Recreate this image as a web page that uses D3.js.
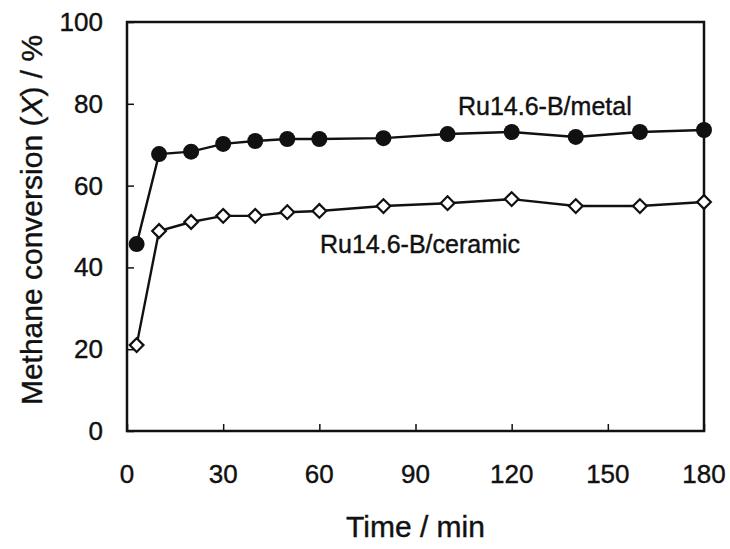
<!DOCTYPE html>
<html>
<head>
<meta charset="utf-8">
<script src="https://cdn.jsdelivr.net/npm/d3@7"></script>
<style>
  body { margin:0; background:#fff; }
  svg text { font-family:"Liberation Sans", Arial, sans-serif; fill:#111; stroke:#111; stroke-width:0.4px; }
</style>
</head>
<body>
<div class="chart"></div>
<script>
// time on stream, min
var times = [3, 10, 20, 30, 40, 50, 60, 80, 100, 120, 140, 160, 180];
// methane conversion, %
var metalValues   = [45.7, 67.7, 68.3, 70.2, 70.9, 71.4, 71.4, 71.6, 72.6, 73.1, 71.9, 73.1, 73.6];
var ceramicValues = [21.0, 48.9, 51.1, 52.6, 52.6, 53.5, 53.8, 55.0, 55.7, 56.7, 55.0, 55.0, 56.0];
var xTicks = [0, 30, 60, 90, 120, 150, 180];
var yTicks = [0, 20, 40, 60, 80, 100];
var seriesLabels = ["Ru14.6-B/metal", "Ru14.6-B/ceramic"];

var width = 730, height = 549;
var margin = {top:22, right:26, bottom:118, left:127};

var svg = d3.select(".chart").append("svg")
  .attr("width", width)
  .attr("height", height);

var x = d3.scaleLinear().domain([0, 180]).range([margin.left, width - margin.right]);
var y = d3.scaleLinear().domain([0, 100]).range([height - margin.bottom, margin.top]);

// inward ticks, left and bottom only
var xAxis = d3.axisTop(x).tickValues(xTicks).tickSize(7).tickFormat("");
var yAxis = d3.axisRight(y).tickValues(yTicks).tickSize(7).tickFormat("");

svg.append("g")
  .attr("transform", "translate(0," + y(0) + ")")
  .call(xAxis)
  .call(function(g){ g.select(".domain").remove(); })
  .selectAll("line").attr("stroke", "#111").attr("stroke-width", 1.5);

svg.append("g")
  .attr("transform", "translate(" + x(0) + ",0)")
  .call(yAxis)
  .call(function(g){ g.select(".domain").remove(); })
  .selectAll("line").attr("stroke", "#111").attr("stroke-width", 1.5);

// tick labels
svg.selectAll(".xlab").data(xTicks).enter().append("text")
  .attr("class", "xlab")
  .attr("x", function(d){ return x(d); })
  .attr("y", y(0) + 52)
  .attr("text-anchor", "middle")
  .style("font-size", "26px")
  .text(function(d){ return d; });

svg.selectAll(".ylab").data(yTicks).enter().append("text")
  .attr("class", "ylab")
  .attr("x", x(0) - 24)
  .attr("y", function(d){ return y(d) + 9; })
  .attr("text-anchor", "end")
  .style("font-size", "26px")
  .text(function(d){ return d; });

// frame
svg.append("rect")
  .attr("x", x(0))
  .attr("y", y(100))
  .attr("width", x(180) - x(0))
  .attr("height", y(0) - y(100))
  .attr("fill", "none")
  .attr("stroke", "#111")
  .attr("stroke-width", 2.5);

var line = d3.line()
  .x(function(d){ return x(d[0]); })
  .y(function(d){ return y(d[1]); });

var metal = times.map(function(t, i){ return [t, metalValues[i]]; });
var ceramic = times.map(function(t, i){ return [t, ceramicValues[i]]; });

svg.append("path").datum(metal)
  .attr("d", line).attr("fill", "none").attr("stroke", "#111").attr("stroke-width", 2.4);
svg.append("path").datum(ceramic)
  .attr("d", line).attr("fill", "none").attr("stroke", "#111").attr("stroke-width", 2.4);

svg.selectAll(".metal").data(metal).enter().append("circle")
  .attr("class", "metal")
  .attr("cx", function(d){ return x(d[0]); })
  .attr("cy", function(d){ return y(d[1]); })
  .attr("r", 8)
  .attr("fill", "#111");

var diamond = d3.symbol().type(d3.symbolDiamond2).size(120);
svg.selectAll(".ceramic").data(ceramic).enter().append("path")
  .attr("class", "ceramic")
  .attr("transform", function(d){ return "translate(" + x(d[0]) + "," + y(d[1]) + ")"; })
  .attr("d", diamond)
  .attr("fill", "#fff")
  .attr("stroke", "#111")
  .attr("stroke-width", 2.2);

// series labels
svg.append("text")
  .attr("x", 458).attr("y", 115)
  .style("font-size", "25px")
  .text(seriesLabels[0]);
svg.append("text")
  .attr("x", 320).attr("y", 253)
  .style("font-size", "25px")
  .text(seriesLabels[1]);

// axis titles
svg.append("text")
  .attr("x", (x(0) + x(180)) / 2)
  .attr("y", 537)
  .attr("text-anchor", "middle")
  .style("font-size", "30px")
  .text("Time / min");

var yt = svg.append("text")
  .attr("transform", "translate(42,220) rotate(-90)")
  .attr("text-anchor", "middle")
  .style("font-size", "30px");
yt.append("tspan").text("Methane conversion (");
yt.append("tspan").style("font-style", "italic").text("X");
yt.append("tspan").text(") / %");
</script>
</body>
</html>
